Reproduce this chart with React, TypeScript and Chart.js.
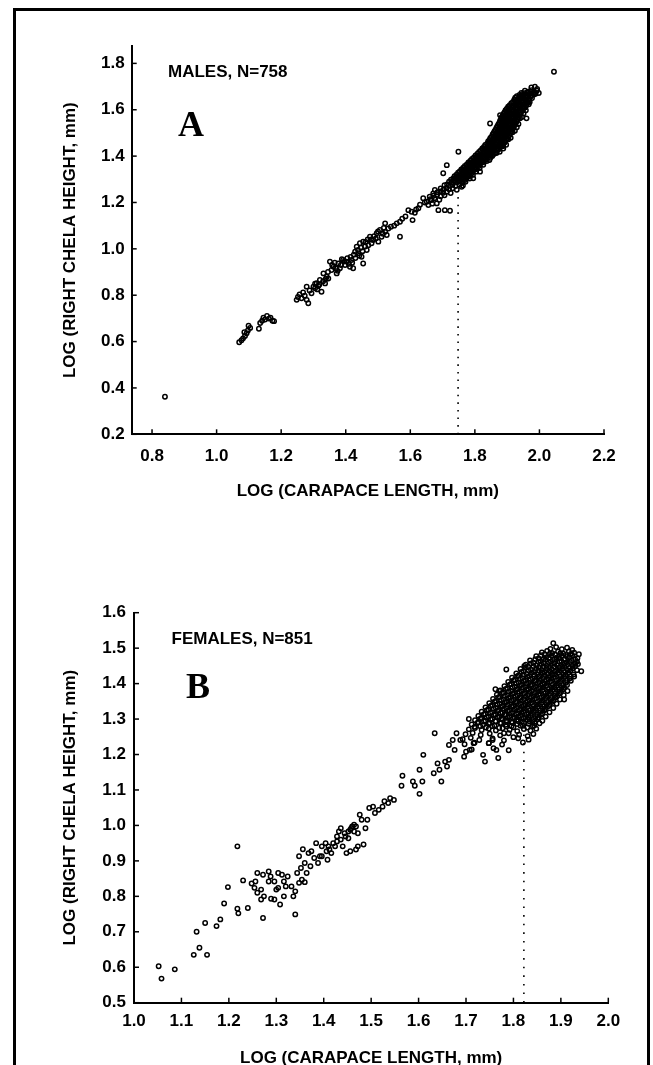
import React, { useEffect, useRef } from "react";
import { Chart, registerables } from "chart.js";

Chart.register(...registerables);

type Pt = [number, number];

// ---------- Panel A: males ----------
const maleXTicks = [0.8, 1.0, 1.2, 1.4, 1.6, 1.8, 2.0, 2.2];
const maleYTicks = [0.2, 0.4, 0.6, 0.8, 1.0, 1.2, 1.4, 1.6, 1.8];
const maleBreakX = 1.748;
const maleBreakY = [0.2, 1.24];
const maleSpeck: Pt[] = [[2.214, 0.966]];

const maleSmall: Pt[] = [
  [0.84, 0.362], [2.045, 1.764],
  [1.07, 0.597], [1.077, 0.606], [1.082, 0.614], [1.088, 0.624], [1.086, 0.64], [1.093, 0.636],
  [1.097, 0.648], [1.099, 0.668], [1.104, 0.659], [1.131, 0.655], [1.135, 0.68], [1.141, 0.69],
  [1.145, 0.703], [1.15, 0.695], [1.156, 0.71], [1.162, 0.699], [1.167, 0.703], [1.173, 0.69], [1.178, 0.688],
];

const maleMid: Pt[] = [
  [1.248, 0.78], [1.252, 0.792], [1.257, 0.803], [1.263, 0.787], [1.268, 0.812], [1.273, 0.798],
  [1.279, 0.78], [1.279, 0.837], [1.284, 0.765], [1.288, 0.82], [1.294, 0.808], [1.3, 0.837],
  [1.305, 0.83], [1.31, 0.852], [1.315, 0.84], [1.32, 0.866], [1.325, 0.815], [1.331, 0.894],
  [1.336, 0.851], [1.341, 0.88], [1.346, 0.872], [1.351, 0.945], [1.356, 0.909], [1.362, 0.923],
  [1.372, 0.894], [1.377, 0.937], [1.382, 0.916], [1.392, 0.952], [1.398, 0.93], [1.403, 0.945],
  [1.413, 0.923], [1.418, 0.952], [1.423, 0.916], [1.429, 0.988], [1.434, 1.009], [1.439, 0.981],
  [1.444, 1.024], [1.449, 0.966], [1.454, 1.031], [1.454, 0.937], [1.465, 0.995], [1.47, 1.016],
  [1.475, 1.052], [1.48, 1.024], [1.485, 1.038], [1.496, 1.067], [1.501, 1.031], [1.506, 1.081],
  [1.511, 1.052], [1.522, 1.074], [1.527, 1.06], [1.522, 1.11], [1.532, 1.088], [1.558, 1.11],
  [1.568, 1.117], [1.568, 1.052], [1.594, 1.167], [1.604, 1.16], [1.614, 1.156], [1.625, 1.175],
  [1.607, 1.124], [1.64, 1.218], [1.651, 1.203], [1.656, 1.189], [1.666, 1.211], [1.671, 1.239],
  [1.676, 1.254], [1.682, 1.196], [1.687, 1.167], [1.707, 1.167], [1.723, 1.164], [1.713, 1.361],
  [1.702, 1.326], [1.749, 1.419], [1.96, 1.563], [1.888, 1.433], [1.816, 1.333], [1.795, 1.304],
  [1.759, 1.268], [1.847, 1.541], [1.878, 1.577], [1.998, 1.672],
  [1.305, 0.85], [1.312, 0.825], [1.318, 0.845], [1.33, 0.86], [1.338, 0.87], [1.345, 0.9],
  [1.358, 0.93], [1.366, 0.94], [1.37, 0.915], [1.375, 0.905], [1.385, 0.93], [1.388, 0.955],
  [1.395, 0.945], [1.405, 0.96], [1.41, 0.935], [1.415, 0.965], [1.42, 0.94], [1.425, 0.975],
  [1.43, 0.96], [1.438, 0.995], [1.442, 0.97], [1.447, 1.005], [1.452, 0.99], [1.46, 1.01],
  [1.462, 1.03], [1.468, 1.04], [1.478, 1.04], [1.488, 1.055], [1.493, 1.045], [1.5, 1.075],
  [1.515, 1.065], [1.518, 1.09], [1.54, 1.095], [1.55, 1.1], [1.575, 1.13], [1.585, 1.14],
  [1.618, 1.17], [1.63, 1.19], [1.645, 1.2], [1.66, 1.225], [1.668, 1.195],
];

const maleDense: Pt[] = [
  [1.975, 1.696], [1.986, 1.699], [1.993, 1.69],
  [1.955, 1.682], [1.965, 1.678], [1.975, 1.684], [1.984, 1.676], [1.992, 1.682],
  [1.938, 1.664], [1.948, 1.668], [1.957, 1.662], [1.966, 1.667], [1.974, 1.661], [1.983, 1.666],
  [1.925, 1.652], [1.934, 1.647], [1.943, 1.653], [1.951, 1.648], [1.96, 1.654], [1.968, 1.646], [1.977, 1.651],
  [1.918, 1.634], [1.927, 1.638], [1.935, 1.632], [1.944, 1.637], [1.952, 1.631], [1.961, 1.636], [1.97, 1.633],
  [1.908, 1.62], [1.917, 1.616], [1.926, 1.622], [1.934, 1.617], [1.943, 1.621], [1.951, 1.615], [1.96, 1.619], [1.967, 1.624],
  [1.899, 1.604], [1.908, 1.608], [1.916, 1.601], [1.925, 1.606], [1.933, 1.602], [1.942, 1.607], [1.95, 1.603], [1.958, 1.598],
  [1.892, 1.589], [1.9, 1.593], [1.909, 1.587], [1.917, 1.591], [1.926, 1.586], [1.934, 1.592], [1.942, 1.588], [1.951, 1.584],
  [1.886, 1.574], [1.894, 1.578], [1.903, 1.572], [1.911, 1.577], [1.92, 1.571], [1.928, 1.576], [1.937, 1.573], [1.946, 1.569],
  [1.881, 1.561], [1.889, 1.557], [1.898, 1.562], [1.906, 1.556], [1.915, 1.561], [1.923, 1.555], [1.932, 1.559], [1.94, 1.563],
  [1.876, 1.544], [1.884, 1.548], [1.893, 1.542], [1.901, 1.546], [1.91, 1.541], [1.918, 1.547], [1.927, 1.543], [1.935, 1.539],
  [1.87, 1.53], [1.879, 1.526], [1.887, 1.532], [1.896, 1.527], [1.904, 1.531], [1.913, 1.525], [1.921, 1.529], [1.93, 1.524],
  [1.864, 1.514], [1.873, 1.518], [1.881, 1.512], [1.89, 1.516], [1.898, 1.511], [1.907, 1.517], [1.915, 1.513], [1.924, 1.509],
  [1.858, 1.5], [1.866, 1.496], [1.875, 1.502], [1.883, 1.497], [1.892, 1.501], [1.9, 1.495], [1.909, 1.499], [1.917, 1.503],
  [1.852, 1.484], [1.86, 1.488], [1.869, 1.482], [1.877, 1.486], [1.886, 1.481], [1.894, 1.487], [1.903, 1.483], [1.911, 1.479],
  [1.845, 1.47], [1.853, 1.466], [1.862, 1.472], [1.87, 1.467], [1.879, 1.471], [1.887, 1.465], [1.896, 1.469], [1.904, 1.473],
  [1.838, 1.454], [1.846, 1.458], [1.855, 1.452], [1.863, 1.456], [1.872, 1.451], [1.88, 1.457], [1.889, 1.453], [1.897, 1.449],
  [1.828, 1.44], [1.836, 1.436], [1.845, 1.442], [1.853, 1.437], [1.862, 1.441], [1.87, 1.435], [1.879, 1.439], [1.887, 1.443],
  [1.818, 1.424], [1.826, 1.428], [1.835, 1.422], [1.843, 1.426], [1.852, 1.421], [1.86, 1.427], [1.869, 1.423], [1.877, 1.419],
  [1.808, 1.41], [1.816, 1.406], [1.825, 1.412], [1.833, 1.407], [1.842, 1.411], [1.85, 1.405], [1.859, 1.409], [1.867, 1.413],
  [1.797, 1.394], [1.805, 1.398], [1.814, 1.392], [1.822, 1.396], [1.831, 1.391], [1.839, 1.397], [1.848, 1.393],
  [1.786, 1.38], [1.794, 1.376], [1.803, 1.382], [1.811, 1.377], [1.82, 1.381], [1.828, 1.375], [1.837, 1.379], [1.845, 1.383],
  [1.775, 1.364], [1.783, 1.368], [1.792, 1.362], [1.8, 1.366], [1.809, 1.361], [1.817, 1.367], [1.826, 1.363],
  [1.764, 1.35], [1.772, 1.346], [1.781, 1.352], [1.789, 1.347], [1.798, 1.351], [1.806, 1.345], [1.815, 1.349],
  [1.753, 1.334], [1.761, 1.338], [1.77, 1.332], [1.778, 1.336], [1.787, 1.331], [1.795, 1.337], [1.804, 1.333],
  [1.743, 1.32], [1.751, 1.316], [1.76, 1.322], [1.768, 1.317], [1.777, 1.321], [1.785, 1.315], [1.794, 1.319],
  [1.733, 1.304], [1.741, 1.308], [1.75, 1.302], [1.758, 1.306], [1.767, 1.301], [1.775, 1.307], [1.784, 1.303],
  [1.72, 1.29], [1.728, 1.286], [1.737, 1.292], [1.745, 1.287], [1.754, 1.291], [1.762, 1.285], [1.771, 1.289],
  [1.706, 1.274], [1.714, 1.278], [1.723, 1.272], [1.731, 1.276], [1.74, 1.271], [1.752, 1.277], [1.763, 1.273],
  [1.694, 1.26], [1.703, 1.256], [1.712, 1.262], [1.72, 1.257], [1.731, 1.261], [1.744, 1.255],
  [1.684, 1.244], [1.693, 1.248], [1.702, 1.242], [1.713, 1.246], [1.725, 1.241],
  [1.672, 1.229], [1.683, 1.233], [1.694, 1.227], [1.706, 1.231],
  [1.662, 1.214], [1.675, 1.218], [1.69, 1.212],
];

const maleDenseInner: Pt[] = [
  [1.944, 1.673], [1.953, 1.671], [1.962, 1.675], [1.971, 1.67], [1.98, 1.674], [1.988, 1.669],
  [1.93, 1.658], [1.939, 1.656], [1.947, 1.66], [1.956, 1.655], [1.964, 1.659], [1.973, 1.657],
  [1.922, 1.643], [1.93, 1.641], [1.939, 1.645], [1.947, 1.64], [1.956, 1.644], [1.965, 1.642],
  [1.913, 1.628], [1.921, 1.626], [1.93, 1.63], [1.938, 1.625], [1.947, 1.629], [1.956, 1.627], [1.964, 1.631],
  [1.903, 1.613], [1.912, 1.611], [1.92, 1.615], [1.929, 1.61], [1.937, 1.614], [1.946, 1.612], [1.955, 1.61],
  [1.895, 1.598], [1.904, 1.596], [1.912, 1.6], [1.921, 1.595], [1.929, 1.599], [1.938, 1.597], [1.947, 1.595],
  [1.889, 1.583], [1.897, 1.581], [1.906, 1.585], [1.914, 1.58], [1.923, 1.584], [1.932, 1.582], [1.941, 1.58],
  [1.883, 1.568], [1.891, 1.566], [1.9, 1.57], [1.908, 1.565], [1.917, 1.569], [1.926, 1.567], [1.935, 1.565],
  [1.878, 1.553], [1.887, 1.551], [1.895, 1.555], [1.904, 1.55], [1.912, 1.554], [1.921, 1.552], [1.93, 1.55],
  [1.873, 1.538], [1.882, 1.536], [1.89, 1.54], [1.899, 1.535], [1.907, 1.539], [1.916, 1.537], [1.925, 1.535],
  [1.867, 1.523], [1.876, 1.521], [1.884, 1.525], [1.893, 1.52], [1.901, 1.524], [1.91, 1.522], [1.919, 1.52],
  [1.861, 1.508], [1.87, 1.506], [1.878, 1.51], [1.887, 1.505], [1.895, 1.509], [1.904, 1.507], [1.913, 1.505],
  [1.855, 1.493], [1.864, 1.491], [1.872, 1.495], [1.881, 1.49], [1.889, 1.494], [1.898, 1.492], [1.907, 1.49],
  [1.848, 1.478], [1.857, 1.476], [1.865, 1.48], [1.874, 1.475], [1.882, 1.479], [1.891, 1.477], [1.9, 1.475],
  [1.841, 1.463], [1.85, 1.461], [1.858, 1.465], [1.867, 1.46], [1.875, 1.464], [1.884, 1.462], [1.893, 1.46],
  [1.832, 1.448], [1.841, 1.446], [1.849, 1.45], [1.858, 1.445], [1.866, 1.449], [1.875, 1.447], [1.884, 1.445],
  [1.823, 1.433], [1.832, 1.431], [1.84, 1.435], [1.849, 1.43], [1.857, 1.434], [1.866, 1.432], [1.874, 1.43],
  [1.813, 1.418], [1.822, 1.416], [1.83, 1.42], [1.839, 1.415], [1.847, 1.419], [1.856, 1.417], [1.864, 1.415],
  [1.802, 1.403], [1.811, 1.401], [1.819, 1.405], [1.828, 1.4], [1.836, 1.404], [1.845, 1.402], [1.854, 1.4],
  [1.791, 1.388], [1.8, 1.386], [1.808, 1.39], [1.817, 1.385], [1.825, 1.389], [1.834, 1.387],
  [1.78, 1.373], [1.789, 1.371], [1.797, 1.375], [1.806, 1.37], [1.814, 1.374], [1.823, 1.372],
  [1.769, 1.358], [1.778, 1.356], [1.786, 1.36], [1.795, 1.355], [1.803, 1.359], [1.812, 1.357],
  [1.758, 1.343], [1.767, 1.341], [1.775, 1.345], [1.784, 1.34], [1.792, 1.344], [1.801, 1.342],
  [1.748, 1.328], [1.757, 1.326], [1.765, 1.33], [1.774, 1.325], [1.782, 1.329], [1.791, 1.327],
  [1.737, 1.313], [1.746, 1.311], [1.754, 1.315], [1.763, 1.31], [1.771, 1.314], [1.78, 1.312],
  [1.726, 1.298], [1.735, 1.296], [1.743, 1.3], [1.752, 1.295], [1.76, 1.299], [1.769, 1.297],
];

// ---------- Panel B: females ----------
const femaleXTicks = [1.0, 1.1, 1.2, 1.3, 1.4, 1.5, 1.6, 1.7, 1.8, 1.9, 2.0];
const femaleYTicks = [0.5, 0.6, 0.7, 0.8, 0.9, 1.0, 1.1, 1.2, 1.3, 1.4, 1.5, 1.6];
const femaleBreakX = 1.822;
const femaleBreakY = [0.5, 1.27];

const femaleSparse: Pt[] = [
  [1.052, 0.603], [1.058, 0.568], [1.086, 0.594], [1.126, 0.635], [1.132, 0.7], [1.138, 0.655],
  [1.15, 0.725], [1.154, 0.635], [1.174, 0.716], [1.182, 0.735], [1.19, 0.78], [1.198, 0.826],
  [1.218, 0.941], [1.218, 0.765], [1.22, 0.752], [1.23, 0.845], [1.24, 0.767], [1.248, 0.836],
  [1.254, 0.824], [1.256, 0.842], [1.26, 0.81], [1.268, 0.819], [1.268, 0.791], [1.272, 0.739],
  [1.274, 0.8], [1.284, 0.87], [1.288, 0.856], [1.289, 0.793], [1.296, 0.842], [1.3, 0.819],
  [1.304, 0.866], [1.304, 0.824], [1.308, 0.777], [1.312, 0.861], [1.316, 0.842], [1.32, 0.828],
  [1.336, 0.8], [1.34, 0.814], [1.34, 0.749], [1.344, 0.866], [1.348, 0.838], [1.354, 0.847],
  [1.36, 0.84], [1.356, 0.933], [1.368, 0.922], [1.372, 0.885], [1.38, 0.908], [1.384, 0.95],
  [1.392, 0.913], [1.396, 0.941], [1.404, 0.95], [1.408, 0.903], [1.412, 0.932], [1.42, 0.95],
  [1.428, 0.969], [1.432, 0.983], [1.436, 0.992], [1.444, 0.978], [1.448, 0.922], [1.452, 0.964],
  [1.456, 0.988], [1.46, 0.997], [1.464, 1.002], [1.468, 0.932], [1.472, 0.978], [1.476, 1.03],
  [1.484, 0.946], [1.488, 0.992], [1.492, 1.016], [1.496, 1.049], [1.508, 1.035], [1.516, 1.044],
  [1.524, 1.053], [1.536, 1.063], [1.548, 1.072], [1.564, 1.112], [1.566, 1.14], [1.588, 1.124],
  [1.592, 1.112], [1.602, 1.089], [1.602, 1.157], [1.608, 1.124], [1.61, 1.199], [1.632, 1.147],
  [1.634, 1.26], [1.64, 1.175], [1.644, 1.157], [1.648, 1.124], [1.656, 1.18], [1.66, 1.166],
  [1.664, 1.185], [1.664, 1.227], [1.672, 1.241], [1.676, 1.213], [1.696, 1.194], [1.7, 1.208],
  [1.736, 1.199], [1.74, 1.18], [1.764, 1.213], [1.768, 1.19], [1.8, 1.249], [1.884, 1.514],
  [1.907, 1.355], [1.943, 1.435],
  [1.348, 0.913], [1.36, 0.894], [1.352, 0.88], [1.364, 0.866], [1.374, 0.927], [1.388, 0.894],
  [1.396, 0.913], [1.406, 0.927], [1.41, 0.941], [1.416, 0.922], [1.424, 0.941], [1.428, 0.955],
  [1.436, 0.96], [1.44, 0.941], [1.446, 0.969], [1.452, 0.983], [1.458, 0.992], [1.464, 0.983],
  [1.468, 0.997], [1.456, 0.927], [1.472, 0.941], [1.48, 1.016], [1.504, 1.053], [1.528, 1.068],
  [1.54, 1.077], [1.316, 0.8], [1.296, 0.791], [1.332, 0.828], [1.324, 0.856], [1.284, 0.842],
  [1.26, 0.866], [1.272, 0.861],
  [1.706, 1.3], [1.762, 1.384], [1.77, 1.38], [1.785, 1.44], [1.823, 1.45], [1.68, 1.26],
  [1.688, 1.241], [1.708, 1.213], [1.716, 1.232], [1.748, 1.232], [1.756, 1.241], [1.78, 1.26],
];

const femaleDense: Pt[] = [
  [1.878, 1.498], [1.89, 1.503], [1.902, 1.497], [1.913, 1.501], [1.924, 1.495],
  [1.86, 1.488], [1.871, 1.492], [1.882, 1.486], [1.894, 1.49], [1.905, 1.485], [1.917, 1.491], [1.928, 1.487], [1.938, 1.483],
  [1.848, 1.477], [1.858, 1.48], [1.869, 1.474], [1.88, 1.479], [1.891, 1.473], [1.902, 1.478], [1.913, 1.475], [1.924, 1.48], [1.935, 1.472],
  [1.835, 1.465], [1.846, 1.469], [1.857, 1.463], [1.868, 1.467], [1.879, 1.462], [1.89, 1.468], [1.901, 1.464], [1.912, 1.46], [1.923, 1.466], [1.934, 1.462],
  [1.826, 1.453], [1.837, 1.457], [1.848, 1.451], [1.859, 1.455], [1.87, 1.45], [1.881, 1.456], [1.892, 1.452], [1.903, 1.448], [1.914, 1.454], [1.925, 1.45], [1.936, 1.455],
  [1.815, 1.441], [1.826, 1.445], [1.837, 1.439], [1.848, 1.443], [1.859, 1.438], [1.87, 1.444], [1.881, 1.44], [1.892, 1.436], [1.903, 1.442], [1.914, 1.437], [1.925, 1.443], [1.934, 1.438],
  [1.806, 1.429], [1.817, 1.433], [1.828, 1.427], [1.839, 1.431], [1.85, 1.426], [1.861, 1.432], [1.872, 1.428], [1.883, 1.424], [1.894, 1.43], [1.905, 1.425], [1.916, 1.431], [1.927, 1.426],
  [1.797, 1.417], [1.808, 1.421], [1.819, 1.415], [1.83, 1.419], [1.841, 1.414], [1.852, 1.42], [1.863, 1.416], [1.874, 1.412], [1.885, 1.418], [1.896, 1.413], [1.907, 1.419], [1.918, 1.414], [1.928, 1.42],
  [1.789, 1.405], [1.8, 1.409], [1.811, 1.403], [1.822, 1.407], [1.833, 1.402], [1.844, 1.408], [1.855, 1.404], [1.866, 1.4], [1.877, 1.406], [1.888, 1.401], [1.899, 1.407], [1.91, 1.402], [1.921, 1.408],
  [1.781, 1.393], [1.792, 1.397], [1.803, 1.391], [1.814, 1.395], [1.825, 1.39], [1.836, 1.396], [1.847, 1.392], [1.858, 1.388], [1.869, 1.394], [1.88, 1.389], [1.891, 1.395], [1.902, 1.39], [1.913, 1.396],
  [1.773, 1.381], [1.784, 1.385], [1.795, 1.379], [1.806, 1.383], [1.817, 1.378], [1.828, 1.384], [1.839, 1.38], [1.85, 1.376], [1.861, 1.382], [1.872, 1.377], [1.883, 1.383], [1.894, 1.378], [1.905, 1.384], [1.914, 1.379],
  [1.765, 1.369], [1.776, 1.373], [1.787, 1.367], [1.798, 1.371], [1.809, 1.366], [1.82, 1.372], [1.831, 1.368], [1.842, 1.364], [1.853, 1.37], [1.864, 1.365], [1.875, 1.371], [1.886, 1.366], [1.897, 1.372], [1.906, 1.367],
  [1.757, 1.357], [1.768, 1.361], [1.779, 1.355], [1.79, 1.359], [1.801, 1.354], [1.812, 1.36], [1.823, 1.356], [1.834, 1.352], [1.845, 1.358], [1.856, 1.353], [1.867, 1.359], [1.878, 1.354], [1.889, 1.36], [1.898, 1.355],
  [1.749, 1.345], [1.76, 1.349], [1.771, 1.343], [1.782, 1.347], [1.793, 1.342], [1.804, 1.348], [1.815, 1.344], [1.826, 1.34], [1.837, 1.346], [1.848, 1.341], [1.859, 1.347], [1.87, 1.342], [1.881, 1.348], [1.891, 1.343],
  [1.741, 1.333], [1.752, 1.337], [1.763, 1.331], [1.774, 1.335], [1.785, 1.33], [1.796, 1.336], [1.807, 1.332], [1.818, 1.328], [1.829, 1.334], [1.84, 1.329], [1.851, 1.335], [1.862, 1.33], [1.873, 1.336], [1.884, 1.331],
  [1.733, 1.321], [1.744, 1.325], [1.755, 1.319], [1.766, 1.323], [1.777, 1.318], [1.788, 1.324], [1.799, 1.32], [1.81, 1.316], [1.821, 1.322], [1.832, 1.317], [1.843, 1.323], [1.854, 1.318], [1.865, 1.324], [1.876, 1.319],
  [1.726, 1.309], [1.737, 1.313], [1.748, 1.307], [1.759, 1.311], [1.77, 1.306], [1.781, 1.312], [1.792, 1.308], [1.803, 1.304], [1.814, 1.31], [1.825, 1.305], [1.836, 1.311], [1.847, 1.306], [1.858, 1.312], [1.868, 1.307],
  [1.719, 1.297], [1.73, 1.301], [1.741, 1.295], [1.752, 1.299], [1.763, 1.294], [1.774, 1.3], [1.785, 1.296], [1.796, 1.292], [1.807, 1.298], [1.818, 1.293], [1.829, 1.299], [1.84, 1.294], [1.851, 1.3], [1.861, 1.295],
  [1.712, 1.285], [1.724, 1.289], [1.736, 1.283], [1.748, 1.287], [1.76, 1.282], [1.772, 1.288], [1.784, 1.284], [1.796, 1.28], [1.808, 1.286], [1.82, 1.281], [1.832, 1.287], [1.844, 1.282], [1.855, 1.288],
  [1.706, 1.271], [1.719, 1.275], [1.733, 1.269], [1.748, 1.273], [1.763, 1.268], [1.777, 1.274], [1.792, 1.27], [1.808, 1.266], [1.822, 1.272], [1.836, 1.267], [1.848, 1.273],
  [1.699, 1.257], [1.714, 1.261], [1.731, 1.255], [1.75, 1.259], [1.772, 1.254], [1.79, 1.26], [1.812, 1.256], [1.83, 1.252], [1.842, 1.258],
  [1.693, 1.243], [1.71, 1.247], [1.728, 1.241], [1.756, 1.245], [1.78, 1.24], [1.81, 1.246], [1.832, 1.242],
  [1.697, 1.229], [1.718, 1.233], [1.748, 1.232], [1.776, 1.228], [1.82, 1.234],
  [1.712, 1.214], [1.758, 1.218], [1.79, 1.212],
];

const femaleDenseInner: Pt[] = [
  [1.866, 1.483], [1.877, 1.485], [1.888, 1.482], [1.899, 1.486], [1.91, 1.481], [1.921, 1.484],
  [1.853, 1.471], [1.864, 1.469], [1.875, 1.473], [1.886, 1.468], [1.897, 1.472], [1.908, 1.469], [1.919, 1.474], [1.93, 1.468],
  [1.842, 1.459], [1.853, 1.461], [1.864, 1.457], [1.875, 1.46], [1.886, 1.456], [1.897, 1.462], [1.908, 1.457], [1.919, 1.461], [1.93, 1.456],
  [1.831, 1.447], [1.842, 1.449], [1.853, 1.445], [1.864, 1.449], [1.875, 1.444], [1.886, 1.448], [1.897, 1.446], [1.908, 1.45], [1.919, 1.445], [1.93, 1.449],
  [1.821, 1.435], [1.832, 1.437], [1.843, 1.433], [1.854, 1.437], [1.865, 1.432], [1.876, 1.436], [1.887, 1.434], [1.898, 1.438], [1.909, 1.433], [1.92, 1.437],
  [1.811, 1.423], [1.822, 1.425], [1.833, 1.421], [1.844, 1.425], [1.855, 1.42], [1.866, 1.424], [1.877, 1.422], [1.888, 1.426], [1.899, 1.421], [1.91, 1.425], [1.921, 1.42],
  [1.803, 1.411], [1.814, 1.413], [1.825, 1.409], [1.836, 1.413], [1.847, 1.408], [1.858, 1.412], [1.869, 1.41], [1.88, 1.414], [1.891, 1.409], [1.902, 1.413], [1.913, 1.408],
  [1.795, 1.399], [1.806, 1.401], [1.817, 1.397], [1.828, 1.401], [1.839, 1.396], [1.85, 1.4], [1.861, 1.398], [1.872, 1.402], [1.883, 1.397], [1.894, 1.401], [1.905, 1.396],
  [1.787, 1.387], [1.798, 1.389], [1.809, 1.385], [1.82, 1.389], [1.831, 1.384], [1.842, 1.388], [1.853, 1.386], [1.864, 1.39], [1.875, 1.385], [1.886, 1.389], [1.897, 1.384], [1.907, 1.388],
  [1.779, 1.375], [1.79, 1.377], [1.801, 1.373], [1.812, 1.377], [1.823, 1.372], [1.834, 1.376], [1.845, 1.374], [1.856, 1.378], [1.867, 1.373], [1.878, 1.377], [1.889, 1.372], [1.9, 1.376],
  [1.771, 1.363], [1.782, 1.365], [1.793, 1.361], [1.804, 1.365], [1.815, 1.36], [1.826, 1.364], [1.837, 1.362], [1.848, 1.366], [1.859, 1.361], [1.87, 1.365], [1.881, 1.36], [1.892, 1.364],
  [1.763, 1.351], [1.774, 1.353], [1.785, 1.349], [1.796, 1.353], [1.807, 1.348], [1.818, 1.352], [1.829, 1.35], [1.84, 1.354], [1.851, 1.349], [1.862, 1.353], [1.873, 1.348], [1.884, 1.352],
  [1.755, 1.339], [1.766, 1.341], [1.777, 1.337], [1.788, 1.341], [1.799, 1.336], [1.81, 1.34], [1.821, 1.338], [1.832, 1.342], [1.843, 1.337], [1.854, 1.341], [1.865, 1.336], [1.876, 1.34],
  [1.747, 1.327], [1.758, 1.329], [1.769, 1.325], [1.78, 1.329], [1.791, 1.324], [1.802, 1.328], [1.813, 1.326], [1.824, 1.33], [1.835, 1.325], [1.846, 1.329], [1.857, 1.324], [1.868, 1.328],
  [1.74, 1.315], [1.751, 1.317], [1.762, 1.313], [1.773, 1.317], [1.784, 1.312], [1.795, 1.316], [1.806, 1.314], [1.817, 1.318], [1.828, 1.313], [1.839, 1.317], [1.85, 1.312], [1.861, 1.316],
  [1.733, 1.303], [1.744, 1.305], [1.755, 1.301], [1.766, 1.305], [1.777, 1.3], [1.788, 1.304], [1.799, 1.302], [1.81, 1.306], [1.821, 1.301], [1.832, 1.305], [1.843, 1.3], [1.853, 1.304],
  [1.726, 1.291], [1.738, 1.293], [1.75, 1.289], [1.762, 1.293], [1.774, 1.288], [1.786, 1.292], [1.798, 1.29], [1.81, 1.294], [1.822, 1.289], [1.834, 1.293], [1.845, 1.288],
  [1.718, 1.278], [1.73, 1.28], [1.742, 1.276], [1.755, 1.28], [1.77, 1.275], [1.785, 1.279], [1.8, 1.277], [1.815, 1.281], [1.829, 1.276], [1.841, 1.28],
];

// ---------- styling / layout ----------
const SANS = '"Liberation Sans", Arial, Helvetica, sans-serif';
const SERIF = '"Liberation Serif", "Times New Roman", serif';
const X_TITLE = "LOG (CARAPACE LENGTH, mm)";
const Y_TITLE = "LOG (RIGHT CHELA HEIGHT, mm)";

const toXY = (pts: Pt[]) => pts.map(([x, y]) => ({ x, y }));

const innerTicks = {
  id: "innerTicks",
  afterDraw(chart: any) {
    const { ctx, chartArea: a, scales } = chart;
    const x = scales.x;
    const y = scales.y;
    ctx.save();
    ctx.strokeStyle = "#000";
    ctx.lineWidth = 1.5;
    x.ticks.forEach((t: any) => {
      const px = x.getPixelForValue(t.value);
      ctx.beginPath();
      ctx.moveTo(px, a.bottom);
      ctx.lineTo(px, a.bottom - 5);
      ctx.stroke();
    });
    y.ticks.forEach((t: any) => {
      const py = y.getPixelForValue(t.value);
      ctx.beginPath();
      ctx.moveTo(a.left, py);
      ctx.lineTo(a.left + 5, py);
      ctx.stroke();
    });
    ctx.restore();
  },
};

function labelsPlugin(caption: string, capX: number, capY: number, letter: string, letX: number, letY: number) {
  return {
    id: "panelLabels",
    afterDraw(chart: any) {
      const ctx = chart.ctx;
      ctx.save();
      ctx.fillStyle = "#000";
      ctx.font = `bold 17px ${SANS}`;
      ctx.textAlign = "left";
      ctx.textBaseline = "middle";
      ctx.fillText(caption, capX, capY);
      ctx.font = `bold 36px ${SERIF}`;
      ctx.textBaseline = "alphabetic";
      ctx.fillText(letter, letX, letY);
      ctx.restore();
    },
  };
}

type PanelSpec = {
  points: Pt[];
  speck: Pt[];
  breakX: number;
  breakY: number[];
  xTicks: number[];
  yTicks: number[];
  xMin: number;
  xMax: number;
  yMin: number;
  yMax: number;
  padding: { left: number; top: number; right: number; bottom: number };
  yAxisWidth: number;
  xAxisHeight: number;
  xTickPad: number;
  yTickPad: number;
  dash: number[];
  plugin: any;
};

function buildConfig(p: PanelSpec): any {
  const tickFont = { family: SANS, size: 17, weight: "bold" as const };
  return {
    type: "scatter",
    data: {
      datasets: [
        {
          data: [
            { x: p.breakX, y: p.breakY[0] },
            { x: p.breakX, y: p.breakY[1] },
          ],
          showLine: true,
          borderColor: "#000",
          borderWidth: 1.6,
          borderDash: p.dash,
          pointRadius: 0,
          fill: false,
        },
        {
          data: toXY(p.points),
          pointRadius: 2.2,
          pointBorderWidth: 1.5,
          borderColor: "#000",
          backgroundColor: "rgba(0,0,0,0)",
          pointStyle: "circle",
        },
        {
          data: toXY(p.speck),
          pointRadius: 1.2,
          pointBorderWidth: 0,
          backgroundColor: "#000",
          borderColor: "#000",
          clip: false,
        },
      ],
    },
    options: {
      animation: false,
      responsive: false,
      maintainAspectRatio: false,
      devicePixelRatio: 1,
      events: [],
      layout: { padding: p.padding },
      plugins: { legend: { display: false }, tooltip: { enabled: false } },
      scales: {
        x: {
          type: "linear",
          position: "bottom",
          min: p.xMin,
          max: p.xMax,
          afterBuildTicks: (s: any) => {
            s.ticks = p.xTicks.map((v) => ({ value: v }));
          },
          afterFit: (s: any) => {
            s.height = p.xAxisHeight;
          },
          ticks: {
            callback: (v: any) => Number(v).toFixed(1),
            padding: p.xTickPad,
            maxRotation: 0,
            minRotation: 0,
            autoSkip: false,
            color: "#000",
            font: tickFont,
          },
          grid: { display: false, drawTicks: false },
          border: { display: true, color: "#000", width: 2 },
          title: { display: true, text: X_TITLE, color: "#000", font: tickFont, padding: 0 },
        },
        y: {
          type: "linear",
          position: "left",
          min: p.yMin,
          max: p.yMax,
          afterBuildTicks: (s: any) => {
            s.ticks = p.yTicks.map((v) => ({ value: v }));
          },
          afterFit: (s: any) => {
            s.width = p.yAxisWidth;
          },
          ticks: {
            callback: (v: any) => Number(v).toFixed(1),
            padding: p.yTickPad,
            autoSkip: false,
            color: "#000",
            font: tickFont,
          },
          grid: { display: false, drawTicks: false },
          border: { display: true, color: "#000", width: 2 },
          title: { display: true, text: Y_TITLE, color: "#000", font: tickFont, padding: 0 },
        },
      },
    },
    plugins: [innerTicks, p.plugin],
  };
}

const panelA: PanelSpec = {
  points: [...maleSmall, ...maleMid, ...maleDense, ...maleDenseInner],
  speck: maleSpeck,
  breakX: maleBreakX,
  breakY: maleBreakY,
  xTicks: maleXTicks,
  yTicks: maleYTicks,
  xMin: 0.737,
  xMax: 2.2,
  yMin: 0.2,
  yMax: 1.875,
  padding: { left: 59.8, top: 46, right: 49, bottom: 18.3 },
  yAxisWidth: 71.9,
  xAxisHeight: 67.4,
  xTickPad: 11.5,
  yTickPad: 7,
  dash: [1.6, 6],
  plugin: labelsPlugin("MALES, N=758", 168, 72, "A", 178, 136),
};

const panelB: PanelSpec = {
  points: [...femaleSparse, ...femaleDense, ...femaleDenseInner],
  speck: [],
  breakX: femaleBreakX,
  breakY: femaleBreakY,
  xTicks: femaleXTicks,
  yTicks: femaleYTicks,
  xMin: 1.0,
  xMax: 2.0,
  yMin: 0.5,
  yMax: 1.6,
  padding: { left: 59.8, top: 92.7, right: 44.7, bottom: 1.8 },
  yAxisWidth: 74.2,
  xAxisHeight: 65.5,
  xTickPad: 8.6,
  yTickPad: 8,
  dash: [1.6, 7],
  plugin: labelsPlugin("FEMALES, N=851", 171.5, 119, "B", 186, 178),
};

function Panel({ spec, top, height }: { spec: PanelSpec; top: number; height: number }) {
  const ref = useRef<HTMLCanvasElement | null>(null);
  useEffect(() => {
    if (!ref.current) return;
    const chart = new Chart(ref.current, buildConfig(spec));
    return () => chart.destroy();
  }, [spec]);
  return (
    <canvas
      ref={ref}
      width={653}
      height={height}
      style={{ position: "absolute", left: 0, top, width: 653, height }}
    />
  );
}

export default function App() {
  return (
    <div
      style={{
        position: "absolute",
        left: 0,
        top: 0,
        width: 653,
        height: 1065,
        overflow: "hidden",
        background: "#fff",
      }}
    >
      <div
        style={{
          position: "absolute",
          left: 13,
          top: 8,
          width: 637,
          height: 1057,
          boxSizing: "border-box",
          borderTop: "3px solid #000",
          borderLeft: "3px solid #000",
          borderRight: "3px solid #000",
        }}
      />
      <Panel spec={panelA} top={0} height={520} />
      <Panel spec={panelB} top={520} height={550} />
    </div>
  );
}
